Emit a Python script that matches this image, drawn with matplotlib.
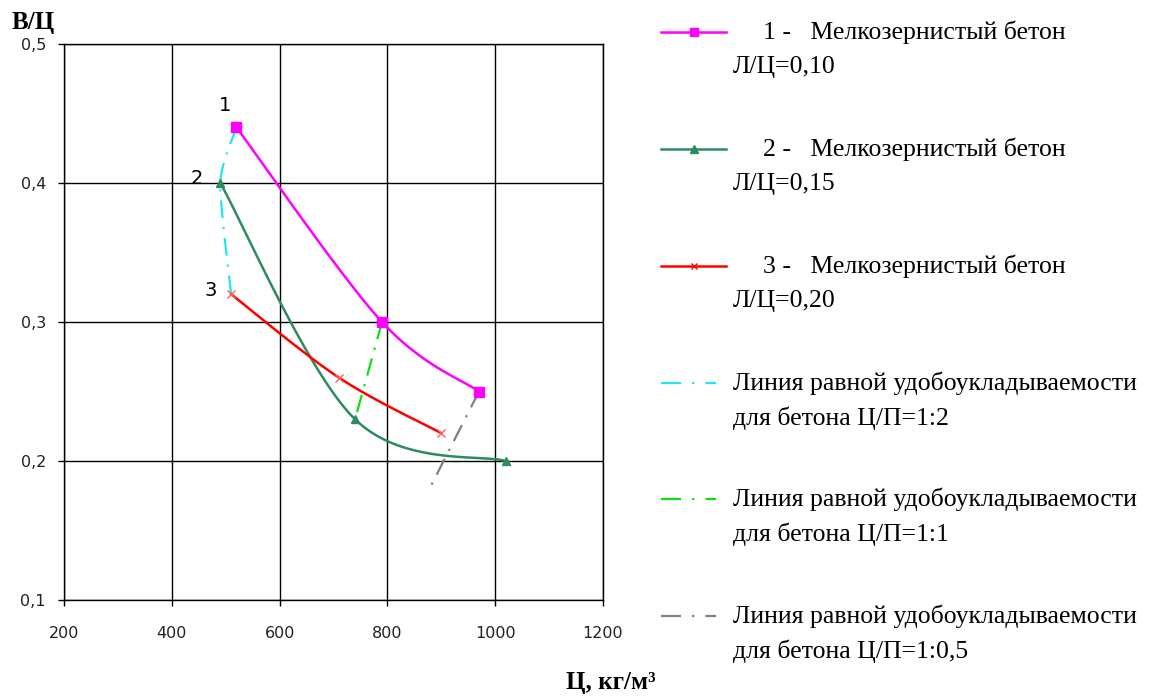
import numpy as np
import matplotlib
matplotlib.use("Agg")
import matplotlib.pyplot as plt
from matplotlib.lines import Line2D

plt.rcParams['font.family'] = ['DejaVu Sans']

# ---- data ----
s1_x = [520, 790, 970]
s1_y = [0.44, 0.30, 0.25]
s2_x = [490, 740, 1020]
s2_y = [0.40, 0.23, 0.20]
s3_x = [510, 710, 900]
s3_y = [0.32, 0.26, 0.22]
eq12_x = [520, 490, 510]      # Ц/П=1:2
eq12_y = [0.44, 0.40, 0.32]
eq11_x = [790, 740]           # Ц/П=1:1
eq11_y = [0.30, 0.23]
eq105_x = [970, 878]          # Ц/П=1:0,5
eq105_y = [0.25, 0.18]

xticks = [200, 400, 600, 800, 1000, 1200]
yticks = [0.1, 0.2, 0.3, 0.4, 0.5]
ytick_labels = ["0,1", "0,2", "0,3", "0,4", "0,5"]

labels_main = ["1 -   Мелкозернистый бетон", "2 -   Мелкозернистый бетон", "3 -   Мелкозернистый бетон"]
labels_main2 = ["Л/Ц=0,10", "Л/Ц=0,15", "Л/Ц=0,20"]
labels_eq = ["Линия равной удобоукладываемости"] * 3
labels_eq2 = ["для бетона Ц/П=1:2", "для бетона Ц/П=1:1", "для бетона Ц/П=1:0,5"]

XMIN, XMAX, YMIN, YMAX = 200, 1200, 0.1, 0.5
W, H = 1158, 697

def smooth(xs, ys, n=40, k=1 / 6):
    # Excel-like smoothed line (Catmull-Rom Bezier) computed in plot pixel space
    px = (np.array(xs, float) - XMIN) / (XMAX - XMIN) * 539
    py = (np.array(ys, float) - YMIN) / (YMAX - YMIN) * 556
    P = np.column_stack([px, py])
    if len(P) < 3:
        return list(xs), list(ys)
    out = [P[0]]
    for i in range(len(P) - 1):
        p0 = P[i - 1] if i > 0 else P[i]
        p1 = P[i]
        p2 = P[i + 1]
        p3 = P[i + 2] if i + 2 < len(P) else P[i + 1]
        c1 = p1 + (p2 - p0) * k
        c2 = p2 - (p3 - p1) * k
        t = np.linspace(0, 1, n)[1:, None]
        b = ((1 - t) ** 3) * p1 + 3 * ((1 - t) ** 2) * t * c1 + 3 * (1 - t) * t ** 2 * c2 + t ** 3 * p2
        out.extend(b)
    out = np.array(out)
    return out[:, 0] / 539 * (XMAX - XMIN) + XMIN, out[:, 1] / 556 * (YMAX - YMIN) + YMIN

fig = plt.figure(figsize=(W / 100, H / 100), dpi=100)
ax = fig.add_axes([64 / W, 1 - 600 / H, (603 - 64) / W, (600 - 44) / H])

MAG = "#FF00FF"
GRN = "#2E8B60"
RED = "#FF0000"
CYA = "#22E5F0"
LIM = "#11DD11"
GRY = "#808080"
dd = (8, 4, 1, 4)

# equal workability lines
x, y = smooth(eq12_x, eq12_y, k=0.12)
ax.plot(x, y, color=CYA, lw=1.6, dashes=dd, zorder=3)
ax.plot(eq11_x, eq11_y, color=LIM, lw=1.6, dashes=dd, zorder=3)
ax.plot(eq105_x, eq105_y, color=GRY, lw=1.6, dashes=dd, zorder=3)

# main series
x, y = smooth(s1_x, s1_y)
ax.plot(x, y, color=MAG, lw=1.8, zorder=4)
ax.plot(s1_x, s1_y, ls="none", marker="s", ms=6.5, color=MAG, zorder=5)
x, y = smooth(s2_x, s2_y)
ax.plot(x, y, color=GRN, lw=1.8, zorder=4)
ax.plot(s2_x, s2_y, ls="none", marker="^", ms=6, color=GRN, zorder=5)
x, y = smooth(s3_x, s3_y)
ax.plot(x, y, color=RED, lw=1.8, zorder=4)
ax.plot(s3_x, s3_y, ls="none", marker="x", ms=6, mew=1, color="#FF6060", zorder=5)

ax.text(s1_x[0] - 9, s1_y[0] + 0.009, "1", fontsize=14, ha="right", va="bottom", zorder=6)
ax.text(s2_x[0] - 33, s2_y[0] + 0.003, "2", fontsize=14, ha="right", va="center", zorder=6)
ax.text(s3_x[0] - 27, s3_y[0] + 0.003, "3", fontsize=14, ha="right", va="center", zorder=6)

ax.set_xlim(XMIN, XMAX)
ax.set_ylim(YMIN, YMAX)
ax.set_xticks(xticks)
ax.set_yticks(yticks)
ax.set_yticklabels(ytick_labels)
ax.grid(True, color="black", lw=1)
ax.set_axisbelow(True)
for sp in ax.spines.values():
    sp.set_color("black")
    sp.set_linewidth(1)
ax.tick_params(direction="out", length=4, width=1, color="black", labelsize=11.5, labelcolor="#222222")
ax.tick_params(axis="x", pad=15)
ax.tick_params(axis="y", pad=9)

serif = "Liberation Serif"
fig.text(12 / W, 1 - 23 / H, "В/Ц", fontsize=18, fontweight="bold", family=serif, ha="left", va="center")
fig.text(566 / W, 1 - 683 / H, "Ц, кг/м³", fontsize=18, fontweight="bold", family=serif, ha="left", va="center")

# legend (manually positioned)
def fx(px):
    return px / W
def fy(py):
    return 1 - py / H

entries = [
    (MAG, "-", "s", 32, labels_main[0], labels_main2[0], 763),
    (GRN, "-", "^", 149, labels_main[1], labels_main2[1], 763),
    (RED, "-", "x", 266, labels_main[2], labels_main2[2], 763),
    (CYA, "dd", None, 383, labels_eq[0], labels_eq2[0], 733),
    (LIM, "dd", None, 499, labels_eq[1], labels_eq2[1], 733),
    (GRY, "dd", None, 616, labels_eq[2], labels_eq2[2], 733),
]
for col, ls, mk, py, t1, t2, tx in entries:
    if ls == "-":
        fig.add_artist(Line2D([fx(661), fx(726)], [fy(py), fy(py)], transform=fig.transFigure,
                              color=col, lw=1.8))
        fig.add_artist(Line2D([fx(693.5)], [fy(py)], transform=fig.transFigure, color=col,
                              marker=mk, ms=6 if mk != "x" else 5, mew=1, ls="none"))
    else:
        fig.add_artist(Line2D([fx(661), fx(716)], [fy(py), fy(py)], transform=fig.transFigure,
                              color=col, lw=1.6, dashes=(9, 5, 1, 5)))
    fig.text(fx(tx), fy(py), t1, fontsize=18.5, family=serif, ha="left", va="center")
    fig.text(fx(733), fy(py + 35), t2, fontsize=18.5, family=serif, ha="left", va="center")

fig.savefig("out.png", dpi=100)
